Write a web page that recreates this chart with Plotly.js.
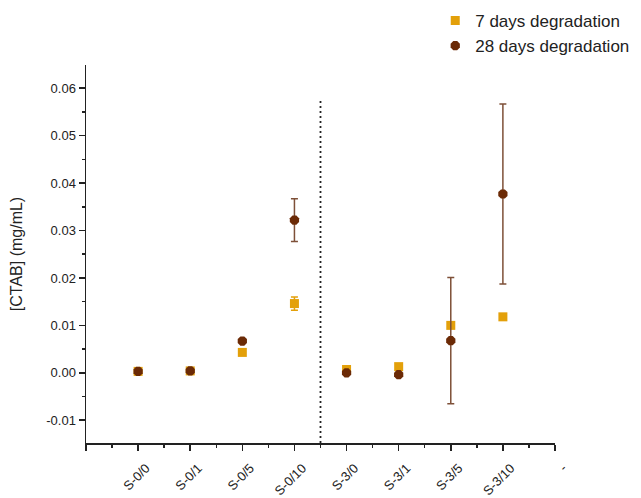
<!DOCTYPE html>
<html>
<head>
<meta charset="utf-8">
<script src="https://cdn.plot.ly/plotly-3.0.1.min.js"></script>
<style>html,body{margin:0;padding:0;background:#fff;}#chart{width:641px;height:498px;}</style>
</head>
<body>
<div id="chart"></div>
<script>
// Sample categories (positions 1..8 on the axis; last tick is a blank "-" slot)
var categories = ["S-0/0", "S-0/1", "S-0/5", "S-0/10", "S-3/0", "S-3/1", "S-3/5", "S-3/10"];
var extraTickLabel = "-";

// [CTAB] (mg/mL)
var days7 = [0.0003, 0.0004, 0.0043, 0.0146, 0.0007, 0.0013, 0.0100, 0.0118];
var days7Err = [0, 0, 0, 0.0014, 0, 0, 0, 0];
var days28 = [0.0003, 0.0004, 0.0067, 0.0322, 0.0000, -0.0004, 0.0068, 0.0377];
var days28Err = [0, 0, 0, 0.0045, 0, 0, 0.0133, 0.0190];

var yTickVals = [-0.01, 0, 0.01, 0.02, 0.03, 0.04, 0.05, 0.06];
var yTickText = ["-0.01", "0.00", "0.01", "0.02", "0.03", "0.04", "0.05", "0.06"];

var xPos = categories.map(function (c, i) { return i + 1; });
var tickVals = [0].concat(xPos, [categories.length + 1]);
var tickText = [""].concat(categories, [extraTickLabel]);

var orange = "#E3A00A";
var brown = "#6B2A06";
var yMin = -0.0148, yMax = 0.0649;

var trace7 = {
  x: xPos, y: days7, type: "scatter", mode: "markers",
  name: "7 days degradation",
  marker: { symbol: "square", size: 9, color: orange },
  error_y: { type: "data", array: days7Err, visible: true, color: orange, thickness: 1.5, width: 3.5 }
};
var trace28 = {
  x: xPos, y: days28, type: "scatter", mode: "markers",
  name: "28 days degradation",
  marker: { symbol: "octagon", size: 10, color: brown },
  error_y: { type: "data", array: days28Err, visible: true, color: "#7E5038", thickness: 1.5, width: 3.5 }
};

var layout = {
  width: 641, height: 498,
  margin: { l: 86, r: 86, t: 65, b: 55, autoexpand: false },
  paper_bgcolor: "#fff", plot_bgcolor: "#fff",
  font: { family: "Liberation Sans, Arial, sans-serif", color: "#222" },
  showlegend: true,
  legend: {
    xref: "container", yref: "container",
    x: 0.679, y: 0.994, xanchor: "left", yanchor: "top",
    font: { size: 17, color: "#222" }, bgcolor: "rgba(0,0,0,0)",
    tracegroupgap: 0, itemwidth: 30
  },
  xaxis: {
    automargin: false,
    range: [0, categories.length + 1],
    tickmode: "array", tickvals: tickVals, ticktext: tickText,
    tickangle: -45, tickfont: { size: 13, color: "#222" },
    ticklabelshift: 8, ticklabelstandoff: 5,
    showgrid: false, zeroline: false,
    showline: true, linecolor: "#222", linewidth: 1.5,
    ticks: "outside", ticklen: 6, tickwidth: 1.5, tickcolor: "#222",
    minor: { dtick: 0.5, tick0: 0, ticks: "outside", ticklen: 3, tickwidth: 1.5, tickcolor: "#222", showgrid: false }
  },
  yaxis: {
    automargin: false,
    range: [yMin, yMax],
    tickmode: "array", tickvals: yTickVals, ticktext: yTickText,
    tickfont: { size: 13, color: "#222" },
    showgrid: false, zeroline: false,
    showline: true, linecolor: "#222", linewidth: 1.5,
    ticks: "outside", ticklen: 6, tickwidth: 1.5, tickcolor: "#222",
    minor: { dtick: 0.005, tick0: 0, ticks: "outside", ticklen: 3, tickwidth: 1.5, tickcolor: "#222", showgrid: false },
    title: { text: "[CTAB] (mg/mL)", font: { size: 16, color: "#222" }, standoff: 19 }
  },
  shapes: [{
    type: "line", xref: "x", yref: "y",
    x0: 4.5, x1: 4.5, y0: yMin, y1: 0.0576,
    line: { color: "#222", width: 1.8, dash: "2px,3px" }
  }]
};

Plotly.newPlot("chart", [trace7, trace28], layout, { displayModeBar: false, staticPlot: true });
</script>
</body>
</html>
